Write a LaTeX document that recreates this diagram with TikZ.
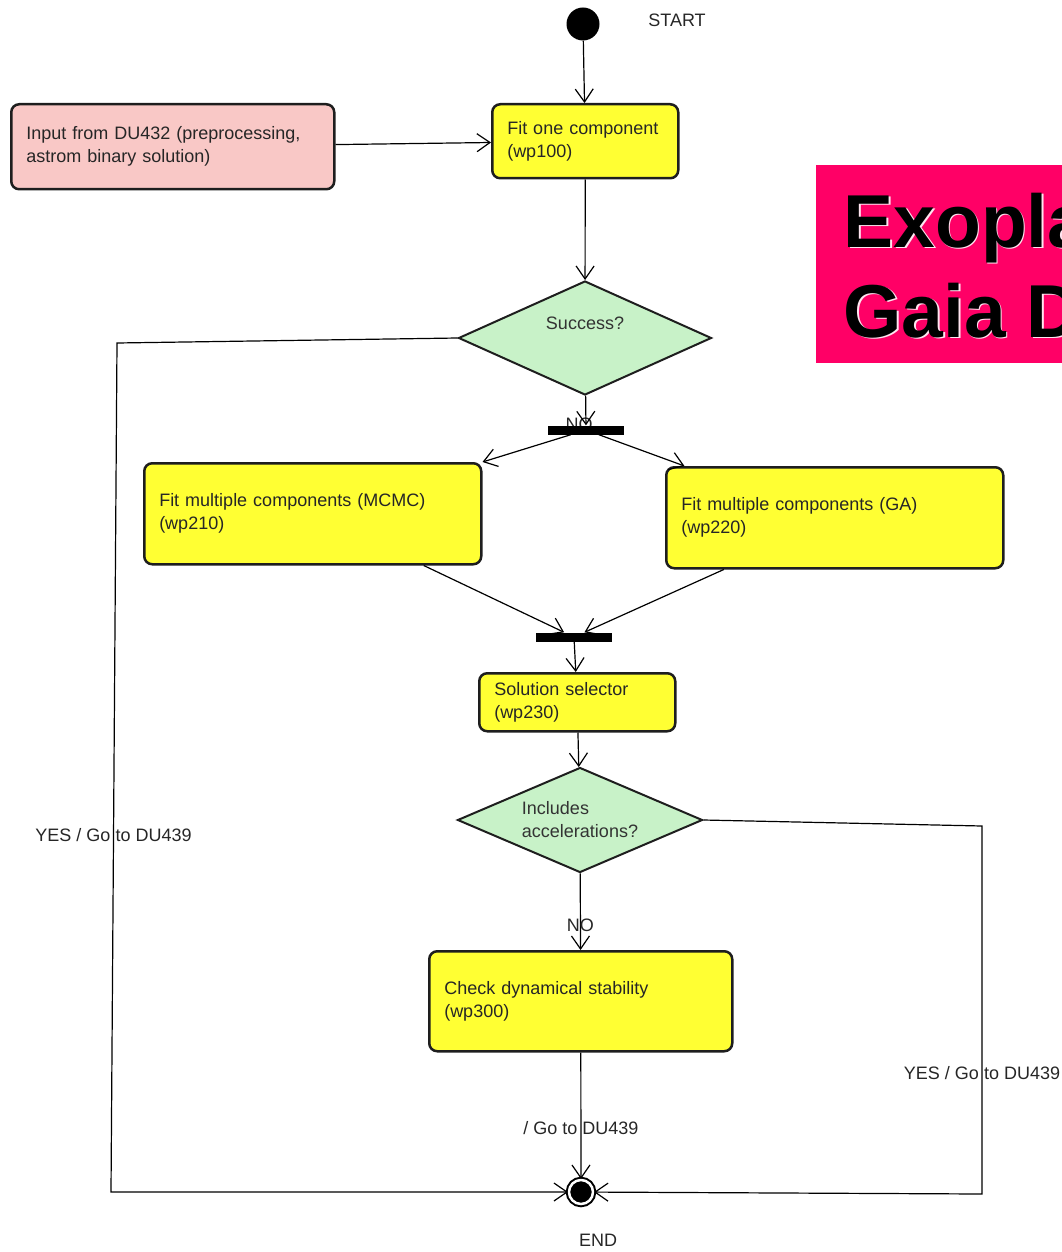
\documentclass[tikz,border=0pt]{standalone}
\usepackage{fontspec}
\setmainfont{Liberation Sans}
\usetikzlibrary{shapes.geometric,arrows.meta}
\definecolor{jaune}{HTML}{FFFF33}
\definecolor{rose}{HTML}{F9C8C6}
\definecolor{vert}{HTML}{C8F2C8}
\definecolor{titre}{HTML}{FF0066}
\definecolor{trait}{HTML}{1E1E1E}
\begin{document}
\begin{tikzpicture}[x=1pt,y=-1pt,
	arr/.style={-{Straight Barb[length=13pt,width=18pt]},line width=1.2pt},
	etape/.style={draw=trait,line width=2.5pt,rounded corners=8pt,fill=jaune,align=left,inner xsep=15pt,inner ysep=0pt,anchor=north west,font=\fontsize{18}{23}\selectfont,text=black!85},
	test/.style={diamond,draw=trait,line width=2pt,fill=vert,aspect=2.3,inner sep=2pt,align=left,font=\fontsize{18}{23}\selectfont,text=black!80},
	barre/.style={fill=black,minimum width=76pt,minimum height=9pt,inner sep=0pt},
	lbl/.style={font=\fontsize{18}{20}\selectfont,text=black!85,inner sep=1pt},
	grand/.style={anchor=base west,font=\fontsize{75}{90}\selectfont\bfseries}]
		\useasboundingbox (0,0) rectangle (1061,1252);
		% cadre du titre
		\fill[titre] (816,165) rectangle (1070,363);
		\node[grand,text=white!90!titre] (titreAo) at (841.5,248.5) {Exopla};
		\node[grand,text=white!90!titre] (titreBo) at (841.5,338.5) {Gaia D};
		\node[grand] (titreA) at (840,247) {Exopla};
		\node[grand] (titreB) at (840,337) {Gaia D};
		
		% debut et fin
		\node[circle,fill=black,minimum size=33pt,inner sep=0pt] (debut) at (583,24) {};
		\node[lbl] (start) at (677,20) {START};
		\node[circle,fill=black,draw=black,double=white,double distance=2.5pt,line width=2pt,minimum size=24pt,inner sep=0pt] (fin) at (581,1192) {};
		\node[lbl] (end) at (598,1240) {END};
		
		% etapes
		\node[etape,fill=rose,text width=293pt,minimum height=85pt] (entree) at (10,103) {Input from DU432 (preprocessing,\\astrom binary solution)};
		\node[etape,text width=156pt,minimum height=74pt] (fit) at (491,103) {Fit one component\\(wp100)};
		\node[etape,text width=307pt,minimum height=101pt] (mcmc) at (143,462) {Fit multiple components (MCMC)\\(wp210)};
		\node[etape,text width=307pt,minimum height=101pt] (ga) at (665,466) {Fit multiple components (GA)\\(wp220)};
		\node[etape,text width=166pt,minimum height=58pt] (sol) at (478,672) {Solution selector\\(wp230)};
		\node[etape,text width=273pt,minimum height=100pt] (check) at (428,950) {Check dynamical stability\\(wp300)};
		
		% tests
		\node[test,minimum width=253pt,minimum height=114pt] (succes) at (585,338) {Success?\\[6pt]};
		\node[test,minimum width=245pt,minimum height=105pt] (accel) at (580,820) {Includes\\accelerations?};
		
		% barres
		\node[lbl] (non1) at (579,424) {NO};
		\node[barre] (fork) at (586,430) {};
		\node[barre] (join) at (574,637) {};
		
		\coordinate (lc1) at (117,343);
		\coordinate (lc2) at (111,1192);
		\coordinate (rc1) at (982,826);
		\coordinate (rc2) at (982,1194);
		
		% fleches
		\draw[arr] (debut) -- (fit);
		\draw[arr] (entree) -- (fit);
		\draw[arr] (fit) -- (succes);
		\draw[arr] (succes) -- (fork);
		\draw[arr] (fork) -- (mcmc.north east);
		\draw[arr] (fork) -- (ga.161);
		\draw[arr] (mcmc.-25) -- (join);
		\draw[arr] (ga.205) -- (join);
		\draw[arr] (join) -- (sol);
		\draw[arr] (sol) -- (accel);
		\draw[arr] (accel) -- node[lbl,pos=.675] (non2) {NO} (check);
		\draw[arr] (check) -- node[lbl,pos=.6] (go) {/ Go to DU439} (fin);
		\draw[arr] (succes.west) -- (lc1) -- node[lbl,pos=.58] (oui1) {YES / Go to DU439} (lc2) -- (fin);%branche gauche
		\draw[arr] (accel.east) -- (rc1) -- node[lbl,pos=.67] (oui2) {YES / Go to DU439} (rc2) -- (fin);%branche droite
	\end{tikzpicture}
\end{document}
